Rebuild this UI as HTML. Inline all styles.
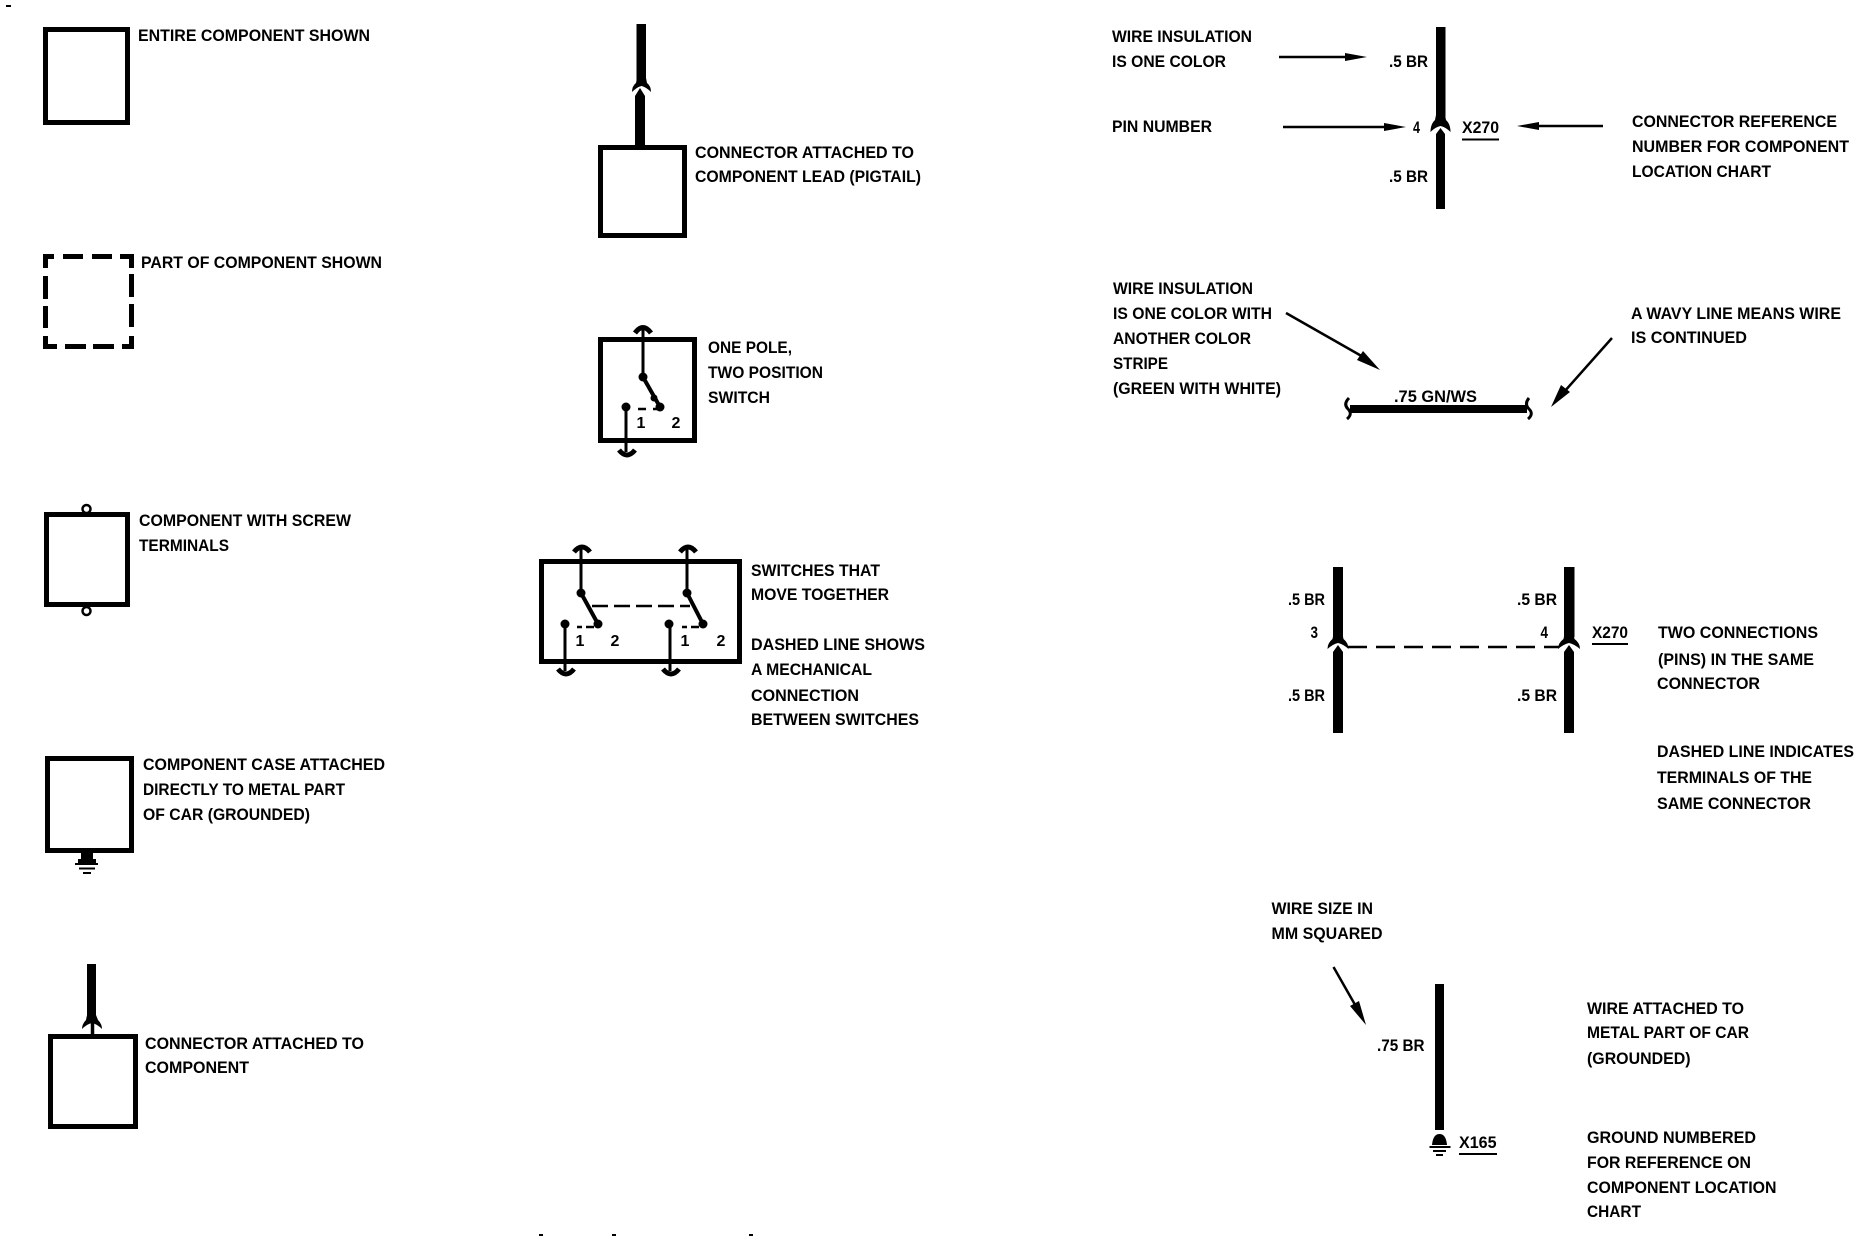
<!DOCTYPE html>
<html><head><meta charset="utf-8"><style>
html,body{margin:0;padding:0;background:#fff}
svg{display:block}
text{font-family:"Liberation Sans",sans-serif;font-weight:bold;font-size:17px;fill:#000}
.s{font-size:16px}
</style></head><body>
<svg width="1860" height="1248" viewBox="0 0 1860 1248" xmlns="http://www.w3.org/2000/svg">
<rect width="1860" height="1248" fill="#fff"/>
<g fill="none" stroke="#000" stroke-width="5">
<path d="M6 6h5" stroke-width="2"/>
<rect x="45.5" y="29.5" width="82" height="93"/>
<!-- dashed box -->
<path d="M45.5 268V256.5H54M63 256.5H83M92 256.5H112M120 256.500H131.500V268M131.500 274V297M131.500 304V327M131.500 336V346.500H122M114 346.500H93M86 346.500H65M57 346.500H45.500V336M45.500 328V306M45.500 299V276"/>
<!-- screw terminals -->
<rect x="46.5" y="514.5" width="81" height="90"/>
<circle cx="86.500" cy="509" r="4" stroke-width="2.500" fill="#fff"/>
<circle cx="86.500" cy="611" r="4" stroke-width="2.500" fill="#fff"/>
<!-- boxes -->
<rect x="47.5" y="758.5" width="84" height="92"/>
<rect x="50.5" y="1036.5" width="85" height="90"/>
<rect x="600.5" y="147.5" width="84" height="88"/>
<rect x="600.5" y="339.5" width="94" height="101"/>
<rect x="541.5" y="561.5" width="198" height="100"/>
</g>
<!-- case ground -->
<path d="M81 853h12v6h3v4H78v-4h3z" fill="#000"/>
<path d="M75 864h23M79 868.500h16M83 873h8" stroke="#000" stroke-width="2" fill="none"/>
<g fill="none" stroke="#000">
<!-- connector to component -->
<path d="M91.500 964V1020" stroke-width="9"/>
<path d="M92.500 1023V1035" stroke-width="3.500"/>
<!-- one pole switch -->
<path d="M635 333Q643 322 651 333" stroke-width="5"/>
<path d="M643 328V377M626 407V452" stroke-width="3"/>
<path d="M643 377L660 407" stroke-width="4"/>
<path d="M619 450Q627 460 635 450" stroke-width="5"/>
<path d="M638 409h8M653 409h5" stroke-width="2.500"/>
<!-- ganged switches -->
<path d="M574 552Q582 542 590 552M680 552Q688 542 696 552" stroke-width="5"/>
<path d="M581 549V593M687 549V593M565 624V671M670 624V671" stroke-width="3"/>
<path d="M581 593L598 624M687 593L703 624" stroke-width="4"/>
<path d="M558 669Q566 679 574 669M663 669Q671 679 679 669" stroke-width="5"/>
<path d="M592 606H690" stroke-width="2.500" stroke-dasharray="16 6"/>
<path d="M577 627h5M586 627h8M682 627h5M691 627h8" stroke-width="2.500"/>
<!-- arrow shafts -->
<path d="M1279 57H1350M1283 127H1390M1603 126H1535" stroke-width="2.500"/>
<path d="M1462 139.500H1499M1592 644H1628M1459 1154H1497" stroke-width="2"/>
<!-- stripe wire -->
<path d="M1350 409H1527" stroke-width="8"/>
<path d="M1349 398Q1343 404 1348 409Q1353 414 1347 419M1529 398Q1524 404 1529 409Q1534 414 1528 419" stroke-width="3"/>
<path d="M1286 313L1365 358M1612 338L1564 392M1333.500 967L1358 1010" stroke-width="2.500"/>
<!-- two pins dashed -->
<path d="M1348 647H1559" stroke-width="2.500" stroke-dasharray="19 9"/>
<!-- ground wire -->
<path d="M1439.500 984V1130" stroke-width="9"/>
<path d="M1429.500 1147H1450.500M1433 1151H1446M1436 1155H1443" stroke-width="2"/>
</g>
<g fill="#000">
<!-- connector to component flare -->
<path d="M87 1015L86 1020Q82 1024 82 1029Q87 1024 92 1023Q97 1024 102 1029Q102 1024 98 1020L96 1015z"/>
<!-- pigtail -->
<rect x="636.500" y="24" width="9.500" height="58"/>
<path d="M637 78L636 83Q632 86 632 92Q637 87 641.500 86Q646 87 651 92Q651 86 647 83L646 78z"/>
<path d="M635 146V96L640 88L645 96V146z"/>
<!-- top wire -->
<rect x="1436" y="27" width="9.500" height="90"/>
<path d="M1436 115L1435 120Q1430.500 124 1430.500 132Q1435.500 127 1440.500 126Q1445.500 127 1450.500 132Q1450.500 124 1446 120L1445 115z"/>
<path d="M1436 209V134L1440.500 128L1445 134V209z"/>
<!-- two pins -->
<rect x="1333" y="567" width="10" height="70"/>
<path d="M1333.500 634L1332.500 639Q1327.500 643 1327.500 649Q1333 644 1338 643Q1343 644 1348.500 649Q1348.500 643 1343.500 639L1342.500 634z"/>
<path d="M1333 733V652L1338 645L1343 652V733z"/>
<rect x="1564" y="567" width="10.500" height="70"/>
<path d="M1564.500 634L1563.500 639Q1558 643 1558 649Q1564 644 1569 643Q1574 644 1580 649Q1580 643 1574.500 639L1573.500 634z"/>
<path d="M1564 733V652L1569 645L1574 652V733z"/>
<!-- arrowheads -->
<path d="M1345 53L1367 57L1345 61z"/>
<path d="M1384 123L1406 127L1384 131z"/>
<path d="M1517 126L1539 122L1539 130z"/>
<path d="M1380 370L1357 360L1363 351z"/>
<path d="M1551 407L1561 385L1570 392z"/>
<path d="M1366 1025L1350 1006L1359 1001z"/>
<path d="M1432 1145Q1433 1134 1439.500 1134Q1446 1134 1447 1145z"/>
<circle cx="643" cy="377" r="4.500"/><circle cx="654" cy="398" r="3.500"/><circle cx="660" cy="407" r="4.500"/><circle cx="626" cy="407" r="4.500"/>
<circle cx="581" cy="593" r="4.500"/><circle cx="598" cy="624" r="4.500"/><circle cx="565" cy="624" r="4.500"/>
<circle cx="687" cy="593" r="4.500"/><circle cx="703" cy="624" r="4.500"/><circle cx="669" cy="624" r="4.500"/>
<rect x="539" y="1234" width="4" height="2"/><rect x="612" y="1234" width="4" height="2"/><rect x="749" y="1234" width="4" height="2"/>
</g>
<g>
<text x="138" y="41" textLength="232" lengthAdjust="spacingAndGlyphs">ENTIRE COMPONENT SHOWN</text>
<text x="141" y="268" textLength="241" lengthAdjust="spacingAndGlyphs">PART OF COMPONENT SHOWN</text>
<text x="139" y="526" textLength="212" lengthAdjust="spacingAndGlyphs">COMPONENT WITH SCREW</text>
<text x="139" y="551" textLength="90" lengthAdjust="spacingAndGlyphs">TERMINALS</text>
<text x="143" y="770" textLength="242" lengthAdjust="spacingAndGlyphs">COMPONENT CASE ATTACHED</text>
<text x="143" y="795" textLength="202" lengthAdjust="spacingAndGlyphs">DIRECTLY TO METAL PART</text>
<text x="143" y="820" textLength="167" lengthAdjust="spacingAndGlyphs">OF CAR (GROUNDED)</text>
<text x="145" y="1049" textLength="219" lengthAdjust="spacingAndGlyphs">CONNECTOR ATTACHED TO</text>
<text x="145" y="1073" textLength="104" lengthAdjust="spacingAndGlyphs">COMPONENT</text>
<text x="695" y="158" textLength="219" lengthAdjust="spacingAndGlyphs">CONNECTOR ATTACHED TO</text>
<text x="695" y="182" textLength="226" lengthAdjust="spacingAndGlyphs">COMPONENT LEAD (PIGTAIL)</text>
<text x="708" y="353" textLength="84" lengthAdjust="spacingAndGlyphs">ONE POLE,</text>
<text x="708" y="378" textLength="115" lengthAdjust="spacingAndGlyphs">TWO POSITION</text>
<text x="708" y="403" textLength="62" lengthAdjust="spacingAndGlyphs">SWITCH</text>
<text x="641" y="428" text-anchor="middle" class="s">1</text>
<text x="676" y="428" text-anchor="middle" class="s">2</text>
<text x="580" y="646" text-anchor="middle" class="s">1</text>
<text x="615" y="646" text-anchor="middle" class="s">2</text>
<text x="685" y="646" text-anchor="middle" class="s">1</text>
<text x="721" y="646" text-anchor="middle" class="s">2</text>
<text x="751" y="576" textLength="129" lengthAdjust="spacingAndGlyphs">SWITCHES THAT</text>
<text x="751" y="600" textLength="138" lengthAdjust="spacingAndGlyphs">MOVE TOGETHER</text>
<text x="751" y="650" textLength="174" lengthAdjust="spacingAndGlyphs">DASHED LINE SHOWS</text>
<text x="751" y="675" textLength="121" lengthAdjust="spacingAndGlyphs">A MECHANICAL</text>
<text x="751" y="701" textLength="108" lengthAdjust="spacingAndGlyphs">CONNECTION</text>
<text x="751" y="725" textLength="168" lengthAdjust="spacingAndGlyphs">BETWEEN SWITCHES</text>
<text x="1112" y="42" textLength="140" lengthAdjust="spacingAndGlyphs">WIRE INSULATION</text>
<text x="1112" y="67" textLength="114" lengthAdjust="spacingAndGlyphs">IS ONE COLOR</text>
<text x="1112" y="132" textLength="100" lengthAdjust="spacingAndGlyphs">PIN NUMBER</text>
<text x="1389" y="67" textLength="39" lengthAdjust="spacingAndGlyphs">.5 BR</text>
<text x="1389" y="182" textLength="39" lengthAdjust="spacingAndGlyphs">.5 BR</text>
<text x="1413" y="133" textLength="7" lengthAdjust="spacingAndGlyphs">4</text>
<text x="1462" y="133" textLength="37" lengthAdjust="spacingAndGlyphs">X270</text>
<text x="1632" y="127" textLength="205" lengthAdjust="spacingAndGlyphs">CONNECTOR REFERENCE</text>
<text x="1632" y="152" textLength="217" lengthAdjust="spacingAndGlyphs">NUMBER FOR COMPONENT</text>
<text x="1632" y="177" textLength="139" lengthAdjust="spacingAndGlyphs">LOCATION CHART</text>
<text x="1113" y="294" textLength="140" lengthAdjust="spacingAndGlyphs">WIRE INSULATION</text>
<text x="1113" y="319" textLength="159" lengthAdjust="spacingAndGlyphs">IS ONE COLOR WITH</text>
<text x="1113" y="344" textLength="138" lengthAdjust="spacingAndGlyphs">ANOTHER COLOR</text>
<text x="1113" y="369" textLength="55" lengthAdjust="spacingAndGlyphs">STRIPE</text>
<text x="1113" y="394" textLength="168" lengthAdjust="spacingAndGlyphs">(GREEN WITH WHITE)</text>
<text x="1631" y="319" textLength="210" lengthAdjust="spacingAndGlyphs">A WAVY LINE MEANS WIRE</text>
<text x="1631" y="343" textLength="116" lengthAdjust="spacingAndGlyphs">IS CONTINUED</text>
<text x="1394" y="402" textLength="83" lengthAdjust="spacingAndGlyphs">.75 GN/WS</text>
<text x="1288" y="605" textLength="37" lengthAdjust="spacingAndGlyphs">.5 BR</text>
<text x="1517" y="605" textLength="40" lengthAdjust="spacingAndGlyphs">.5 BR</text>
<text x="1288" y="701" textLength="37" lengthAdjust="spacingAndGlyphs">.5 BR</text>
<text x="1517" y="701" textLength="40" lengthAdjust="spacingAndGlyphs">.5 BR</text>
<text x="1310.500" y="638" textLength="7.500" lengthAdjust="spacingAndGlyphs">3</text>
<text x="1540.500" y="638" textLength="7.500" lengthAdjust="spacingAndGlyphs">4</text>
<text x="1592" y="638" textLength="36" lengthAdjust="spacingAndGlyphs">X270</text>
<text x="1658" y="638" textLength="160" lengthAdjust="spacingAndGlyphs">TWO CONNECTIONS</text>
<text x="1658" y="665" textLength="156" lengthAdjust="spacingAndGlyphs">(PINS) IN THE SAME</text>
<text x="1657" y="689" textLength="103" lengthAdjust="spacingAndGlyphs">CONNECTOR</text>
<text x="1657" y="757" textLength="197" lengthAdjust="spacingAndGlyphs">DASHED LINE INDICATES</text>
<text x="1657" y="783" textLength="155" lengthAdjust="spacingAndGlyphs">TERMINALS OF THE</text>
<text x="1657" y="809" textLength="154" lengthAdjust="spacingAndGlyphs">SAME CONNECTOR</text>
<text x="1271.500" y="914" textLength="101.500" lengthAdjust="spacingAndGlyphs">WIRE SIZE IN</text>
<text x="1271.500" y="939" textLength="111" lengthAdjust="spacingAndGlyphs">MM SQUARED</text>
<text x="1377" y="1051" textLength="47.500" lengthAdjust="spacingAndGlyphs">.75 BR</text>
<text x="1459" y="1148" textLength="37.500" lengthAdjust="spacingAndGlyphs">X165</text>
<text x="1587" y="1014" textLength="157" lengthAdjust="spacingAndGlyphs">WIRE ATTACHED TO</text>
<text x="1587" y="1038" textLength="162" lengthAdjust="spacingAndGlyphs">METAL PART OF CAR</text>
<text x="1587" y="1064" textLength="103.500" lengthAdjust="spacingAndGlyphs">(GROUNDED)</text>
<text x="1587" y="1143" textLength="169" lengthAdjust="spacingAndGlyphs">GROUND NUMBERED</text>
<text x="1587" y="1168" textLength="164" lengthAdjust="spacingAndGlyphs">FOR REFERENCE ON</text>
<text x="1587" y="1193" textLength="189.500" lengthAdjust="spacingAndGlyphs">COMPONENT LOCATION</text>
<text x="1587" y="1217" textLength="54" lengthAdjust="spacingAndGlyphs">CHART</text>
</g>
</svg>
</body></html>
